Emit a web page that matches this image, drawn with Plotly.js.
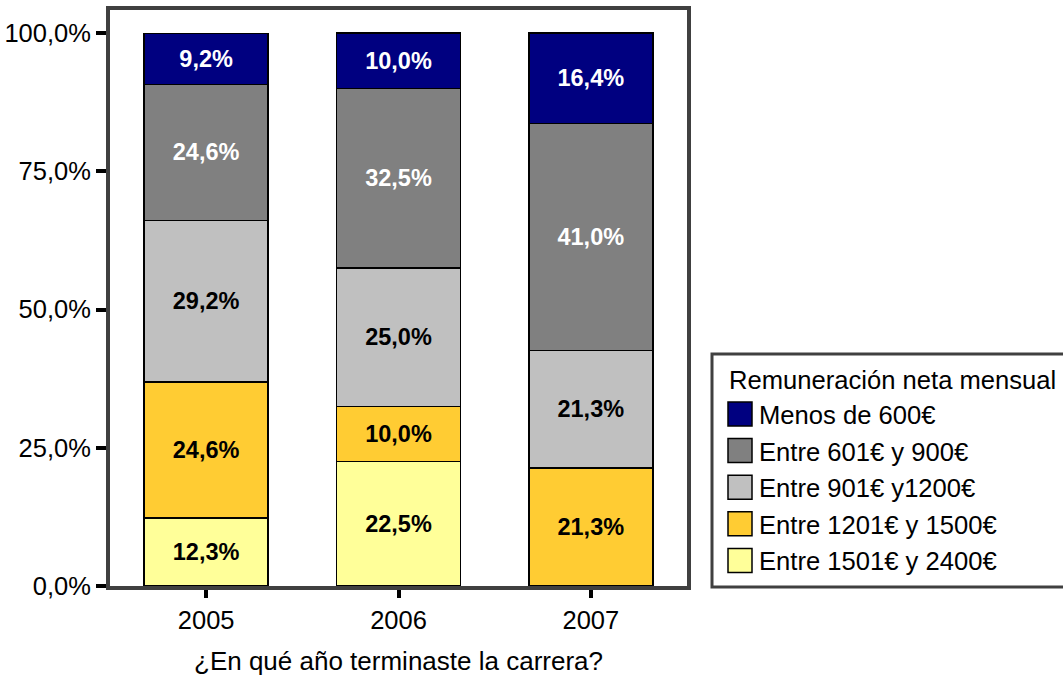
<!DOCTYPE html>
<html>
<head>
<meta charset="utf-8">
<script src="https://cdn.plot.ly/plotly-3.0.1.min.js"></script>
<style>html,body{margin:0;padding:0;background:#fff;}#chart{width:1063px;height:677px;}</style>
</head>
<body>
<div id="chart"></div>
<script>
// ---- data ----
var years = ['2005', '2006', '2007'];
var seriesNames = ['Menos de 600€', 'Entre 601€ y 900€', 'Entre 901€ y1200€', 'Entre 1201€ y 1500€', 'Entre 1501€ y 2400€'];
var menos600 = [9.2, 10.0, 16.4];
var entre601y900 = [24.6, 32.5, 41.0];
var entre901y1200 = [29.2, 25.0, 21.3];
var entre1201y1500 = [24.6, 10.0, 21.3];
var entre1501y2400 = [12.3, 22.5, null];
var yTickVals = [0, 25, 50, 75, 100];
var yTickText = ['0,0%', '25,0%', '50,0%', '75,0%', '100,0%'];
var legendTitle = 'Remuneración neta mensual';
var xTitle = '¿En qué año terminaste la carrera?';

// ---- styles ----
var seriesValues = [menos600, entre601y900, entre901y1200, entre1201y1500, entre1501y2400];
var colors = ['#000080', '#808080', '#C0C0C0', '#FFCC33', '#FFFF99'];
var labelColors = ['#ffffff', '#ffffff', '#000000', '#000000', '#000000'];
var FONT = '"Liberation Sans", Arial, sans-serif';

var W = 1063, H = 677;
var M = {l: 110, r: 376, t: 10, b: 91};
var plotW = W - M.l - M.r, plotH = H - M.t - M.b;
function px(x) { return (x - M.l) / plotW; }
function py(y) { return (H - M.b - y) / plotH; }

// bottom-to-top stacking: reverse order
var traces = [];
for (var i = seriesNames.length - 1; i >= 0; i--) {
  traces.push({
    type: 'bar',
    name: seriesNames[i],
    x: years,
    y: seriesValues[i],
    width: 0.645,
    marker: {color: colors[i], line: {color: '#000000', width: 1.5}},
    texttemplate: '%{y:.1f}%',
    textposition: 'inside',
    insidetextanchor: 'middle',
    textangle: 0,
    constraintext: 'none',
    textfont: {family: FONT, size: 23.5, color: labelColors[i], weight: 'bold'},
    hoverinfo: 'skip',
    showlegend: false
  });
}

// custom legend
var shapes = [{
  type: 'rect', xref: 'paper', yref: 'paper',
  x0: px(712), x1: px(1075), y0: py(587), y1: py(354),
  line: {color: '#404040', width: 3}, fillcolor: 'rgba(0,0,0,0)'
}];
var annotations = [{
  xref: 'paper', yref: 'paper', x: px(727), y: py(380), xanchor: 'left', yanchor: 'middle',
  text: legendTitle, showarrow: false, font: {family: FONT, size: 25.6, color: '#000'}
}];
var itemY0 = 414, itemStep = 36.6, sw = 24;
for (var k = 0; k < seriesNames.length; k++) {
  var cy = itemY0 + k * itemStep;
  shapes.push({
    type: 'rect', xref: 'paper', yref: 'paper',
    x0: px(728), x1: px(728 + sw), y0: py(cy + sw / 2), y1: py(cy - sw / 2),
    fillcolor: colors[k], line: {color: '#000', width: 1.5}
  });
  annotations.push({
    xref: 'paper', yref: 'paper', x: px(757), y: py(cy + 1), xanchor: 'left', yanchor: 'middle',
    text: seriesNames[k], showarrow: false, font: {family: FONT, size: 25.6, color: '#000'}
  });
}

var layout = {
  width: W, height: H,
  margin: M,
  barmode: 'stack',
  separators: ',.',
  paper_bgcolor: '#ffffff',
  plot_bgcolor: '#ffffff',
  font: {family: FONT, size: 25.5, color: '#000'},
  showlegend: false,
  xaxis: {
    type: 'category',
    range: [-0.5, 2.5],
    showline: true, mirror: true, linecolor: '#404040', linewidth: 4,
    ticks: 'outside', ticklen: 8, tickwidth: 4, tickcolor: '#000',
    tickfont: {family: FONT, size: 25.5, color: '#000'},
    showgrid: false, zeroline: false,
    title: {text: xTitle, font: {family: FONT, size: 26, color: '#000'}, standoff: 20}
  },
  yaxis: {
    range: [0, 100 * plotH / 553],
    tickvals: yTickVals,
    ticktext: yTickText,
    showline: true, mirror: true, linecolor: '#404040', linewidth: 4,
    ticks: 'outside', ticklen: 10, tickwidth: 4, tickcolor: '#000',
    tickfont: {family: FONT, size: 25.5, color: '#000'},
    showgrid: false, zeroline: false
  },
  shapes: shapes,
  annotations: annotations
};

Plotly.newPlot('chart', traces, layout, {displayModeBar: false, staticPlot: true});
</script>
</body>
</html>
